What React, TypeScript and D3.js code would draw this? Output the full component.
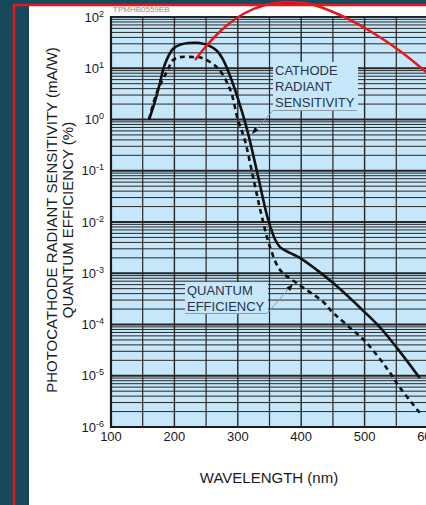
import React from 'react';
import * as d3 from 'd3';

// wavelength (nm) vs cathode radiant sensitivity (mA/W)
const sensWave = [160, 170, 177, 185, 198, 210, 222, 240, 256, 267, 277, 292, 306, 316, 330, 348, 359, 367, 382, 398, 425, 450, 497, 524, 551, 587];
const sensValue = [1.0, 2.4, 5.1, 12, 24, 29, 31, 31, 27, 22, 14.5, 5.1, 1.5, 0.55, 0.1, 0.011, 0.0045, 0.0032, 0.0025, 0.002, 0.00115, 0.00065, 0.00019, 0.000089, 0.000035, 0.000009];

// wavelength (nm) vs quantum efficiency (%)
const qeWave = [160, 172, 188, 198, 209, 229, 240, 267, 288, 300, 311, 324, 338, 351, 367, 393, 434, 450, 472, 503, 535, 556, 587];
const qeValue = [1.0, 3.3, 8.5, 14.5, 16.5, 16.6, 16.4, 10.5, 3.8, 1.0, 0.4, 0.076, 0.0126, 0.0032, 0.00115, 0.00064, 0.00028, 0.00017, 0.000098, 0.000044, 0.000014, 0.0000058, 0.0000019];

const xTicks = [100, 200, 300, 400, 500, 600];
const yExponents = [2, 1, 0, -1, -2, -3, -4, -5, -6];

const W = 426;
const H = 505;
const font = 'Liberation Sans, Arial, sans-serif';
const plotFill = '#c6e7fa';
const gridColor = '#262626';

export default function App() {
  const x = d3.scaleLinear().domain([100, 600]).range([111, 428]);
  const y = d3.scaleLog().domain([1e-6, 1e2]).range([427, 17]);
  const left = x(100), right = x(600), top = y(100), bottom = y(1e-6);

  const vLines = d3.range(100, 601, 50);
  const hLines: { v: number; major: boolean }[] = [];
  for (let e = -6; e <= 1; e++) {
    for (let k = 1; k <= 9; k++) hLines.push({ v: k * Math.pow(10, e), major: k === 1 });
  }
  hLines.push({ v: 100, major: true });

  const line = d3.line<[number, number]>()
    .x(d => x(d[0]))
    .y(d => y(d[1]))
    .curve(d3.curveCatmullRom.alpha(0.5));

  const sensPts = sensWave.map((w, i) => [w, sensValue[i]] as [number, number]);
  const qePts = qeWave.map((w, i) => [w, qeValue[i]] as [number, number]);

  // red freehand arc drawn over the screenshot
  const arcPts: [number, number][] = [[195, 60], [208, 44], [225, 27], [245, 13], [265, 5], [285, 2], [310, 4], [340, 15], [370, 31], [400, 51], [432, 77]];
  const arcPath = d3.line().curve(d3.curveCatmullRom)(arcPts) || '';

  const arrow = (x1: number, y1: number, x2: number, y2: number) => {
    const a = Math.atan2(y2 - y1, x2 - x1);
    const len = 7, wid = 2.6;
    const bx = x2 - len * Math.cos(a), by = y2 - len * Math.sin(a);
    const px = -Math.sin(a) * wid, py = Math.cos(a) * wid;
    return `M${x2},${y2}L${bx + px},${by + py}L${bx - px},${by - py}Z`;
  };

  return (
    <div style={{ position: 'absolute', left: 0, top: 0 }}>
      <svg width={W} height={H} style={{ display: 'block' }}>
        <rect x={0} y={0} width={W} height={H} fill="#17485c" />
        <rect x={29} y={6} width={W} height={H} fill="#ffffff" />

        <text x={113} y={12} fontFamily={font} fontSize={8} fill="#8a8a8a">TPMHB0559EB</text>

        {/* plot area */}
        <rect x={left} y={top} width={right - left} height={bottom - top} fill={plotFill} />
        {hLines.map((h, i) => (
          <line key={'h' + i} x1={left} x2={right} y1={y(h.v)} y2={y(h.v)}
            stroke={gridColor} strokeWidth={h.major ? 2 : 1} />
        ))}
        {vLines.map(v => (
          <line key={'v' + v} x1={x(v)} x2={x(v)} y1={top} y2={bottom}
            stroke={gridColor} strokeWidth={v % 100 === 0 ? 1.4 : 1.2} />
        ))}
        <line x1={left} x2={left} y1={top - 1} y2={bottom + 1} stroke="#1a1a1a" strokeWidth={2.2} />
        <line x1={left - 1} x2={right} y1={bottom} y2={bottom} stroke="#1a1a1a" strokeWidth={2.2} />

        {/* curves */}
        <path d={line(sensPts) || ''} fill="none" stroke="#111" strokeWidth={2.6} strokeLinejoin="round" />
        <path d={line(qePts) || ''} fill="none" stroke="#111" strokeWidth={2.6} strokeDasharray="5,4" />

        {/* annotations */}
        <rect x={273} y={62} width={85} height={49} fill={plotFill} />
        <text fontFamily={font} fontSize={13} fill="#263248">
          <tspan x={275} y={75}>CATHODE</tspan>
          <tspan x={275} y={91}>RADIANT</tspan>
          <tspan x={275} y={107}>SENSITIVITY</tspan>
        </text>
        <line x1={273} x2={357} y1={110.5} y2={110.5} stroke="#8d9aa5" strokeWidth={1} />
        <line x1={273} y1={110.5} x2={252} y2={134} stroke="#8d9aa5" strokeWidth={1} />
        <path d={arrow(273, 110.5, 252, 134)} fill="#111" />

        <rect x={185} y={282} width={83} height={32} fill={plotFill} />
        <text fontFamily={font} fontSize={13} fill="#263248">
          <tspan x={187} y={295}>QUANTUM</tspan>
          <tspan x={187} y={311}>EFFICIENCY</tspan>
        </text>
        <line x1={185} x2={267} y1={313.5} y2={313.5} stroke="#8d9aa5" strokeWidth={1} />
        <line x1={267} y1={313.5} x2={293} y2={284} stroke="#8d9aa5" strokeWidth={1} />
        <path d={arrow(267, 313.5, 293, 284)} fill="#111" />

        {/* tick labels */}
        {xTicks.map(t => (
          <text key={'xt' + t} x={x(t)} y={441} textAnchor="middle" fontFamily={font} fontSize={13} fill="#1a1a1a">{t}</text>
        ))}
        {yExponents.map(e => (
          <text key={'yt' + e} x={104} y={y(Math.pow(10, e)) + 4.5} textAnchor="end" fontFamily={font} fontSize={13} fill="#1a1a1a">
            10<tspan dy={-5} fontSize={9}>{e}</tspan>
          </text>
        ))}

        {/* axis titles */}
        <text x={269} y={483} textAnchor="middle" fontFamily={font} fontSize={15} fill="#1a1a1a">WAVELENGTH (nm)</text>
        <text transform="translate(57,220) rotate(-90)" textAnchor="middle" fontFamily={font} fontSize={15} fill="#1a1a1a">PHOTOCATHODE RADIANT SENSITIVITY (mA/W)</text>
        <text transform="translate(73,220) rotate(-90)" textAnchor="middle" fontFamily={font} fontSize={15} fill="#1a1a1a">QUANTUM EFFICIENCY (%)</text>

        {/* red markup */}
        <path d={arcPath} fill="none" stroke="#e8151b" strokeWidth={2.5} />
        <rect x={14} y={5} width={W} height={H} fill="none" stroke="#e8151b" strokeWidth={2.5} />
      </svg>
    </div>
  );
}
